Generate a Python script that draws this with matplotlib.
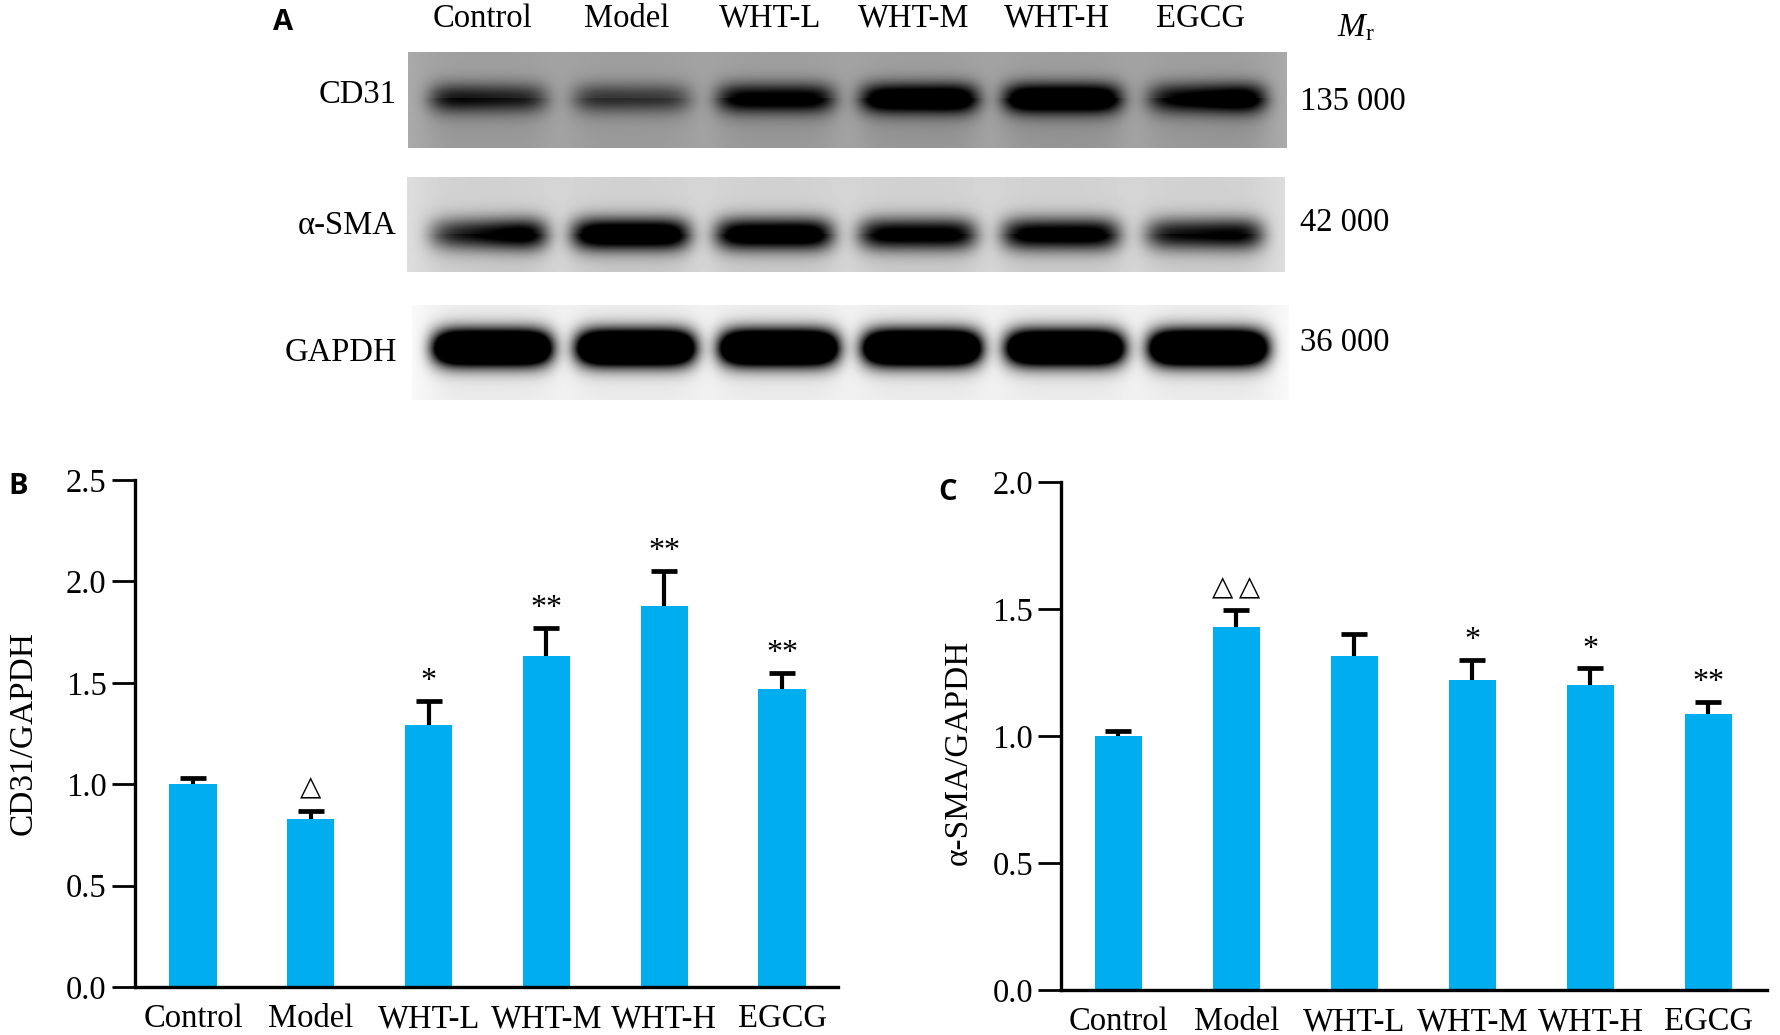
import numpy as np
import matplotlib.pyplot as plt
from matplotlib import transforms

plt.rcParams['font.family'] = ['Liberation Serif', 'DejaVu Sans']
plt.rcParams['mathtext.fontset'] = 'custom'
plt.rcParams['mathtext.rm'] = 'Liberation Serif'
plt.rcParams['mathtext.it'] = 'Liberation Serif:italic'

# ---- data ----
groups = ["Control", "Model", "WHT-L", "WHT-M", "WHT-H", "EGCG"]

cd31_mean = [1.00, 0.83, 1.29, 1.63, 1.88, 1.47]
cd31_err = [0.03, 0.04, 0.12, 0.14, 0.17, 0.08]
cd31_sig = ["", "\u25b3", "*", "**", "**", "**"]

sma_mean = [1.00, 1.43, 1.315, 1.22, 1.20, 1.085]
sma_err = [0.018, 0.065, 0.087, 0.081, 0.066, 0.05]
sma_sig = ["", "\u25b3\u2009\u25b3", "", "*", "*", "**"]

# western blot band strength per lane (left half, right half), 0..1
cd31_band_l = [0.62, 0.45, 0.72, 0.88, 1.00, 0.55]
cd31_band_r = [0.48, 0.40, 0.74, 1.00, 1.00, 1.00]
sma_band_l = [0.45, 1.00, 0.92, 0.80, 0.82, 0.62]
sma_band_r = [1.00, 1.00, 0.95, 0.82, 0.85, 0.80]
gapdh_band_l = [1.0, 1.0, 1.0, 1.0, 0.95, 1.0]
gapdh_band_r = [1.0, 1.0, 1.0, 1.0, 0.95, 1.0]

blots = ["CD31", "\u03b1-SMA", "GAPDH"]
mr_labels = ["135 000", "42 000", "36 000"]

BAR = "#00aeef"
W, H = 1780, 1035
fig = plt.figure(figsize=(W / 100, H / 100), dpi=100)


def rect(x0, y0, x1, y1):
    # pixel box (top-left origin) -> figure fraction rect
    return [x0 / W, 1 - y1 / H, (x1 - x0) / W, (y1 - y0) / H]


def fx(x):
    return x / W


def fy(y):
    return 1 - y / H


# ---- panel A: blots ----
def blot_image(left, right, bg, yc, sy, gain, smear):
    nx, ny = 900, 100
    xs = np.linspace(-0.56, 5.56, nx)
    ys = np.linspace(0, 1, ny)[:, None]
    dark = np.zeros((ny, nx))
    lane_mask = np.zeros(nx)
    for i in range(len(left)):
        prof = np.exp(-(np.abs(xs - i) / 0.41) ** 6)
        frac = np.clip(xs - i + 0.5, 0, 1)
        amp = left[i] + (right[i] - left[i]) * frac
        band = np.exp(-0.5 * ((ys - yc) / sy) ** 2)
        tail = smear * np.exp(-np.clip(ys - yc, 0, None) / 0.35) * (ys > yc)
        dark += amp * prof * (band * gain + tail)
        lane_mask += np.exp(-(np.abs(xs - i) / 0.5) ** 4)
    bgmap = bg + 0.06 * (1 - np.clip(lane_mask, 0, 1))
    img = bgmap * (1 - np.clip(dark, 0, 1))
    return img


strips = [
    (rect(408, 52, 1287, 148), cd31_band_l, cd31_band_r, 0.62, 0.48, 0.11, 1.5, 0.22),
    (rect(407, 177, 1285, 272), sma_band_l, sma_band_r, 0.82, 0.60, 0.12, 1.35, 0.12),
    (rect(412, 305, 1289, 400), gapdh_band_l, gapdh_band_r, 0.93, 0.45, 0.13, 2.4, 0.05),
]
blot_axes = []
for r, bl, br, bg, yc, sy, gain, smear in strips:
    bax = fig.add_axes(r)
    bax.imshow(blot_image(bl, br, bg, yc, sy, gain, smear), cmap="gray",
               vmin=0, vmax=1, aspect="auto", extent=(-0.56, 5.56, 1, 0),
               interpolation="bilinear")
    bax.set_axis_off()
    blot_axes.append(bax)

tr = transforms.blended_transform_factory(blot_axes[0].transData, blot_axes[0].transAxes)
for i, g in enumerate(groups):
    blot_axes[0].text(i - 0.04, 1.35, g, transform=tr, ha="center", va="center", fontsize=23.5)

for name, yy in zip(blots, [95, 226, 353]):
    fig.text(fx(397), fy(yy), name, ha="right", va="center", fontsize=23.5)
for lab, yy in zip(mr_labels, [102, 223, 343]):
    fig.text(fx(1300), fy(yy), lab, ha="left", va="center", fontsize=23.5)
fig.text(fx(1337), fy(28), r"$M_{\mathrm{r}}$", ha="left", va="center", fontsize=24)

for letter, (px, py) in zip("ABC", [(283, 23), (18, 487), (948, 493)]):
    fig.text(fx(px), fy(py), letter, ha="center", va="center", fontsize=21,
             fontweight="bold", family="Open Sans")


# ---- bar panels ----
def bar_panel(r, xlim, means, errs, sigs, ymax, ylabel, ylab_pos):
    ax = fig.add_axes(r)
    x = np.arange(len(groups))
    ax.bar(x, means, width=0.40, color=BAR, zorder=2)
    eb = ax.errorbar(x, means, yerr=[np.zeros(len(errs)), errs], fmt="none", ecolor="black",
                     elinewidth=3.0, capsize=9.4, capthick=3.4, zorder=3)
    eb[1][0].set_visible(False)  # no cap at the bar top
    for i, s in enumerate(sigs):
        if not s:
            continue
        if "\u25b3" in s:
            ax.annotate(s, (i, means[i] + errs[i]), xytext=(0, 11), textcoords="offset points",
                        ha="center", va="baseline", fontsize=20, family="DejaVu Sans")
        else:
            ax.annotate(s, (i, means[i] + errs[i]), xytext=(0, 8.5), textcoords="offset points",
                        ha="center", va="baseline", fontsize=23)
    ax.set_xlim(*xlim)
    ax.set_ylim(0, ymax)
    ax.set_yticks(np.arange(0, ymax + 0.01, 0.5))
    ax.set_yticklabels([f"{v:.1f}" for v in np.arange(0, ymax + 0.01, 0.5)])
    ax.set_xticks(x)
    ax.set_xticklabels(groups)
    for s in ["top", "right"]:
        ax.spines[s].set_visible(False)
    for s in ["left", "bottom"]:
        ax.spines[s].set_linewidth(2.4)
    ax.tick_params(axis="y", direction="out", length=16.5, width=2.0, pad=3.5, labelsize=23.5)
    ax.tick_params(axis="x", length=0, pad=12, labelsize=23.5)
    fig.text(fx(ylab_pos[0]), fy(ylab_pos[1]), ylabel, rotation=90, ha="center", va="center",
             fontsize=24)
    return ax


bar_panel(rect(134.5, 480, 838, 987), (-0.497, 5.475), cd31_mean, cd31_err, cd31_sig, 2.5,
          "CD31/GAPDH", (23, 733))
bar_panel(rect(1061, 482, 1767, 990), (-0.487, 5.496), sma_mean, sma_err, sma_sig, 2.0,
          "\u03b1-SMA/GAPDH", (959, 752))

fig.savefig("out.png", dpi=100)
